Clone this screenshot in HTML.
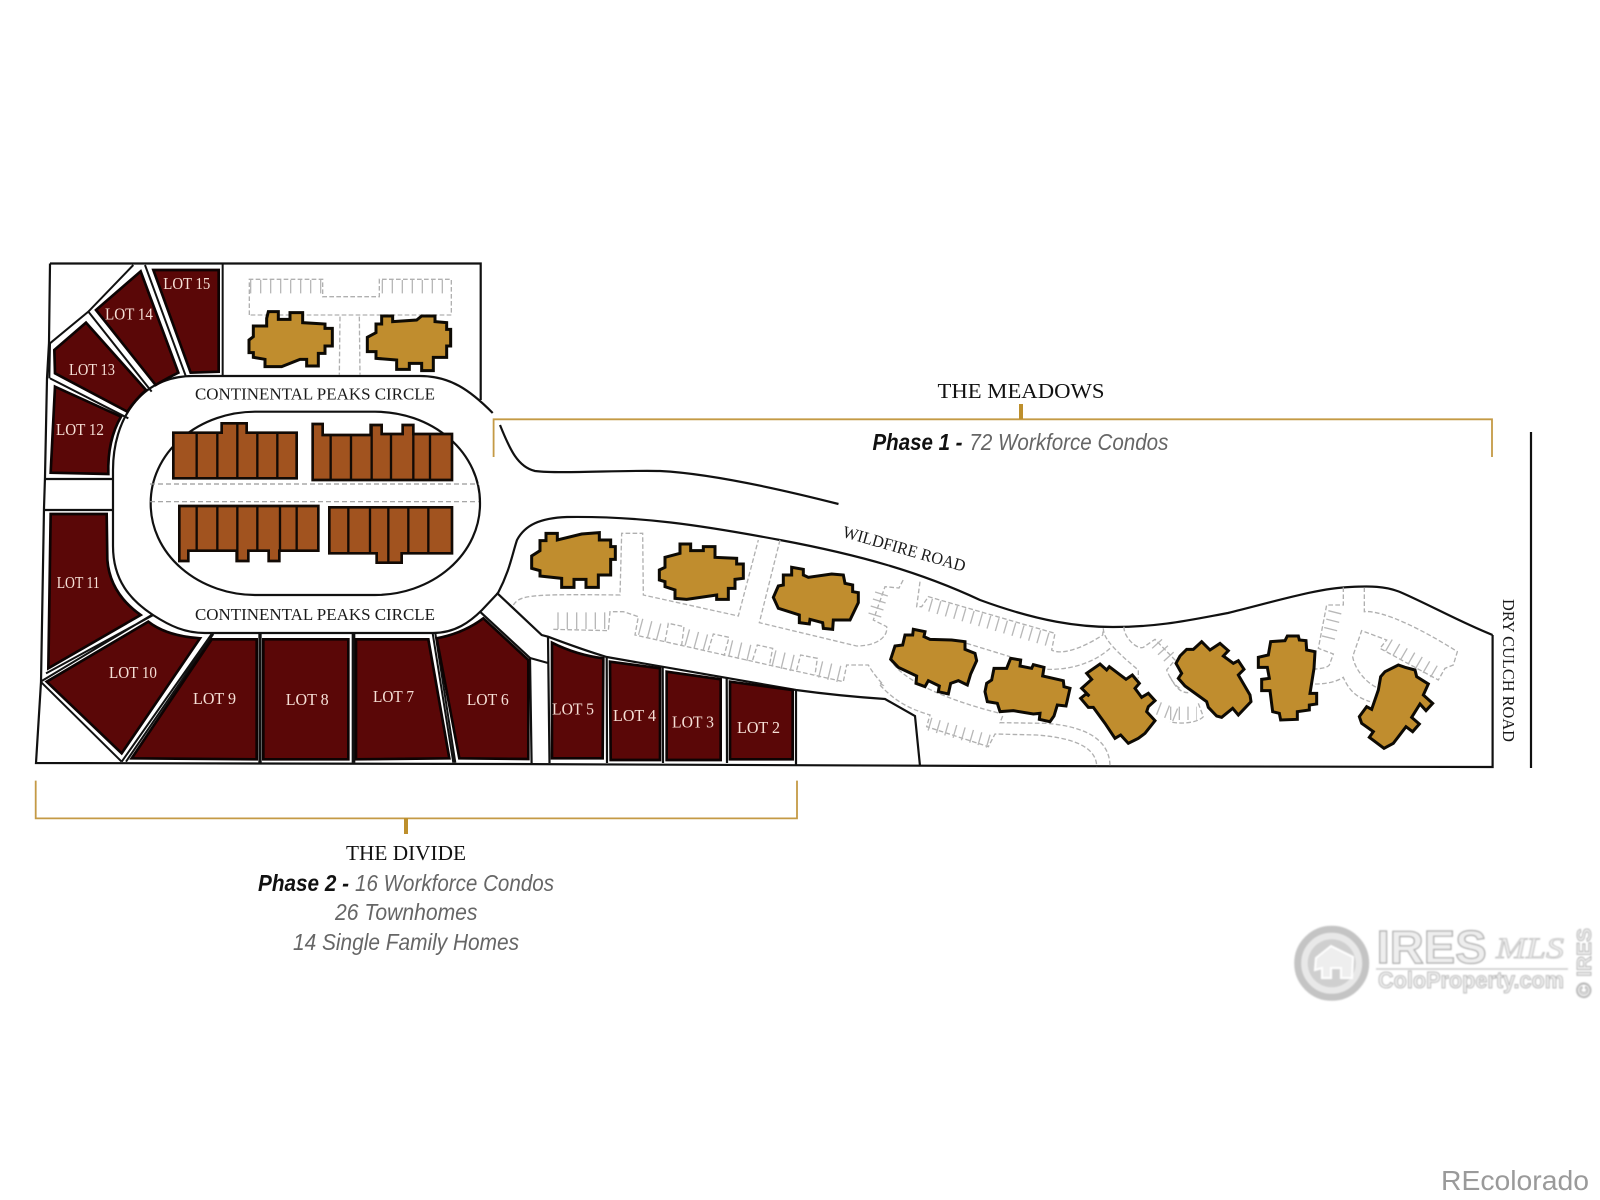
<!DOCTYPE html>
<html><head><meta charset="utf-8"><style>
html,body{margin:0;padding:0;background:#fff}
svg{display:block}
.lot{fill:#5a0707;stroke:#0d0303;stroke-width:8;stroke-linejoin:miter}
.ln{fill:none;stroke:#111;stroke-width:6}
.th{fill:#a1531f;stroke:#120a05;stroke-width:8}
.dv{fill:none;stroke:#120a05;stroke-width:7}
.b{fill:#c08d2e;stroke:#0d0a04;stroke-width:9;stroke-linejoin:miter}
.d{fill:none;stroke:#b0b0b0;stroke-width:4;stroke-dasharray:14 7}
.t{fill:none;stroke:#b8b8b8;stroke-width:40;stroke-dasharray:4 22}
.lb{font-family:"Liberation Serif",serif;font-size:17px;fill:#f6dfd6}
.rd{font-family:"Liberation Serif",serif;font-size:17px;fill:#1a1a1a}
.h{font-family:"Liberation Serif",serif;font-size:21px;fill:#111}
.p{font-family:"Liberation Sans",sans-serif;font-size:23px;font-style:italic;fill:#666}
.pb{font-family:"Liberation Sans",sans-serif;font-size:23px;font-style:italic;font-weight:bold;fill:#111}
</style></head><body>
<svg width="1600" height="1200" viewBox="0 0 1600 1200" xmlns="http://www.w3.org/2000/svg">
<defs><filter id="gl" x="-10%" y="-10%" width="120%" height="120%"><feGaussianBlur stdDeviation="0.7"/></filter></defs>
<rect width="1600" height="1200" fill="#fff"/>

<!-- main lines, real coordinates -->
<g fill="none" stroke="#111" stroke-width="2.2">
<path d="M50,263.5 L480.7,263.5 L480.7,400"/>
<path d="M50,263.5 L49,343 L47,378 L45,477 L44,508 L41,682 L36,763 L500,764 L1000,766 L1492.6,767 L1492.6,635"/>
<path d="M492.7,413 C470,390 450,376 420,376 L193,376 C140,376 113,420 113,470 L113,546 C113,580 130,600 153,615 C170,626 185,633 205,633 L433,633 C455,633 470,622 482,610 L498,593 C510,570 512,555 517,540 C525,525 540,518 567,517 C640,516 700,525 780,540 C860,555 920,572 980,600 C1040,622 1080,627 1113,627 C1160,627 1190,620 1228,613 C1280,600 1320,588 1350,587 C1370,586 1385,586 1400,592 C1430,605 1460,622 1492.6,635"/>
<path d="M480,611.7 L530,658 L531.6,763 M496.7,592.7 L541.7,635 L548,636.7 C570,645 590,652 606.7,657 L796,690 Q840,696 885,699 L915,716 L920,766"/>
<path d="M530,658 L548,663 M548,636.7 L549.5,763 M606.7,657 L607,763 M662.7,667 L663,763 M726.7,678 L727,763 M796,690 L796,765"/>
<path d="M45,510 L113,510 M45,479 L113,479"/>
<path d="M500,425 C510,450 518,467 535,471 C560,474 620,470 660,471 C700,473 760,484 838.5,504"/>
</g>
<rect x="150.7" y="411.7" width="329.3" height="183.3" rx="105" ry="91" fill="#fff" stroke="#111" stroke-width="2.2"/>
<path d="M150,484 H479 M150,501.7 H479" stroke="#999" stroke-width="1.2" stroke-dasharray="5 3" fill="none"/>
<path d="M1531,432 V768" stroke="#111" stroke-width="2.2" fill="none"/>

<!-- Left group Z1 -->
<g transform="translate(20,250) scale(.33333)">
<path class="ln" d="M90,280 L205,185 L340,45 M205,185 L395,425 M375,45 L498,380 M90,385 L325,505 M90,280 L88,385 M608,40 V375"/>
<path class="lot" d="M400,60 H596 V365 L512,368 Z"/>
<path class="lot" d="M362,64 L475,368 Q440,385 407,405 L228,180 Z"/>
<path class="lot" d="M198,218 L378,420 Q345,450 322,485 L105,370 L103,300 Z"/>
<path class="lot" d="M105,410 L303,500 Q262,570 265,672 L92,668 Z"/>
<path class="th" d="M460,548 H605 V520 H680 V548 H830 V685 H460 Z"/>
<path class="dv" d="M530,548 V685 M592,548 V685 M652,520 V685 M712,548 V685 M772,548 V685"/>
<path class="th" d="M878,522 H908 V555 H1052 V525 H1085 V552 H1148 V525 H1180 V552 H1296 V690 H878 Z"/>
<path class="dv" d="M932,555 V690 M993,555 V690 M1055,525 V690 M1113,552 V690 M1180,525 V690 M1230,552 V690"/>
<path class="th" d="M478,768 H895 V902 H778 V933 H746 V902 H685 V933 H650 V902 H505 V933 H478 Z"/>
<path class="dv" d="M530,768 V902 M592,768 V902 M652,768 V933 M712,768 V902 M780,768 V902 M830,768 V902"/>
<path class="th" d="M928,772 H1296 V910 H1145 V938 H1070 V910 H928 Z"/>
<path class="dv" d="M985,772 V910 M1050,772 V910 M1105,772 V938 M1165,772 V910 M1225,772 V910"/>
<path class="d" d="M688,195 V88 H908 V140 H1078 V88 H1294 V195 H688 M960,200 L958,375 M1018,200 L1020,375"/>
<path class="t" d="M690,110 H905 M1085,110 H1290" style="stroke-dasharray:4 26"/>
<path class="b" d="M700,228 H740 V205 L745,185 H775 V208 H810 V188 H848 V218 L915,222 V235 H937 V288 H915 V310 H895 V348 H860 V328 H840 L785,350 H735 V328 L700,322 V308 H687 V270 L700,260 Z"/>
<path class="b" d="M1068,222 H1085 V198 H1118 V215 L1190,210 L1205,198 H1245 V215 L1280,218 V238 H1292 V288 H1280 V322 H1240 V362 H1205 V340 H1168 V358 H1130 V330 L1068,325 V305 H1042 V262 L1068,248 Z"/>
</g>

<!-- Left group Z2 -->
<g transform="translate(20,500) scale(.33333)">
<path class="ln" d="M62,545 L395,345 M78,520 L400,345 M62,545 L305,785 M305,785 L575,402 M318,785 L580,402 M718,400 V788 M722,400 V788 M998,400 V788 M1003,400 V788 M1238,400 L1300,788 M1246,400 L1306,788"/>
<path class="lot" d="M92,42 H260 L262,180 Q270,280 362,345 L85,505 Z"/>
<path class="lot" d="M80,545 L385,365 Q440,408 540,415 L305,760 Z"/>
<path class="lot" d="M575,418 H710 V778 L335,775 Z"/>
<path class="lot" d="M730,418 H985 V778 H730 Z"/>
<path class="lot" d="M1008,418 H1225 L1288,775 L1008,778 Z"/>
<path class="lot" d="M1250,415 Q1330,400 1390,355 L1525,480 L1525,777 L1318,775 Z"/>
</g>

<!-- Z3 group -->
<g transform="translate(480,480) scale(.33333)">
<path class="lot" d="M216,488 Q290,525 370,535 L368,835 H216 Z"/>
<path class="lot" d="M390,545 L540,565 V840 H392 Z"/>
<path class="lot" d="M560,575 L722,598 V840 H560 Z"/>
<path class="lot" d="M750,605 L938,630 V838 H750 Z"/>
<path class="b" d="M180,182 H198 V160 H232 V180 L305,162 L358,158 V180 H392 V200 H406 V238 H392 V285 H355 V322 H318 V298 H282 V322 H245 V295 L180,288 V272 L155,265 V228 L180,212 Z"/>
<path class="b" d="M555,232 L600,220 V192 H632 V212 H670 V200 H705 V232 L770,235 V252 H790 V295 L765,298 V325 H745 V358 H710 V345 L620,358 L585,355 V330 L555,320 V305 L538,300 V270 L555,262 Z"/>
<path class="b" d="M910,285 H935 V262 L970,268 V285 L985,292 L1055,282 L1090,285 L1095,310 L1118,315 V335 L1135,338 V368 L1110,420 H1060 L1058,448 L1030,445 L1028,428 L990,418 L988,432 L958,428 V405 L895,385 L880,352 L895,318 L910,315 Z"/>
</g>

<!-- parking, lots 2-5 side : origin 500,580 -->
<g transform="translate(500,580) scale(.33333)">
<path class="d" d="M40,75 C60,45 90,42 360,45 L365,-140 H428 L430,45 L715,108 L775,-120 M840,-120 L778,128 L1070,198 C1130,198 1165,170 1160,140 L1120,120 L1155,20 L1197,24 L1212,-5"/>
<path class="d" d="M160,148 L325,152 L330,95 H370 L415,110 L405,165 L1030,305 L1040,255 H1105 C1130,300 1170,330 1140,310"/>
<path class="d" d="M495,185 L505,130 L552,140 L545,195 M625,210 L640,162 L687,172 L672,228 M758,240 L772,195 L818,205 L808,258 M890,270 L902,225 L952,235 L945,285"/>
<path class="t" d="M172,122 H325 M420,140 L495,160 M560,172 L625,190 M690,205 L760,222 M820,235 L890,252 M960,268 L1030,285" style="stroke-width:50;stroke-dasharray:4 24"/>
<path class="t" d="M1145,40 L1120,120" style="stroke-width:40;stroke-dasharray:4 18"/>
</g>

<!-- buildings D E F : origin 880,590 -->
<g transform="translate(880,590) scale(.33333)">
<path class="d" d="M120,-25 L110,50 L125,50 L145,20 L525,130 L515,180 C540,195 600,180 668,135 L670,115 M732,110 C730,140 770,180 790,172 L825,148 L885,210 L860,240 C880,290 905,300 900,290 M670,115 C670,140 690,170 775,240 L775,265 M690,175 C640,220 570,240 500,238 M260,160 L390,200 M30,205 C60,270 200,330 360,370 M0,285 C50,340 100,360 150,375 L140,410 L325,470 L345,432 L470,435 C600,445 650,480 650,530 M368,378 L360,398 L500,400 C620,410 690,450 690,530"/>
<path class="t" d="M150,45 L510,150 M148,402 L330,455 M830,160 L880,215 M835,355 L900,380" style="stroke-dasharray:4 22"/>
<path class="b" d="M75,135 H98 L100,118 L135,125 L132,140 L150,148 L215,150 L255,155 V178 L285,190 L290,212 L272,252 L262,285 L235,272 L212,280 L205,312 L175,305 L178,288 L145,272 L135,290 L108,280 L110,258 L55,232 L32,208 L45,168 L68,165 Z"/>
<path class="b" d="M342,235 H380 L392,205 L422,210 L420,228 L455,235 L460,224 L492,232 L488,258 L550,272 L552,290 L570,295 L558,348 L532,345 L522,378 L510,395 L478,388 L480,370 L460,372 L400,362 L360,365 L352,340 L322,335 L315,305 L320,280 L335,270 Z"/>
<path class="b" d="M660,222 L680,240 L688,230 L738,268 L757,255 L778,280 L765,295 L785,322 L805,310 L825,332 L805,350 L800,365 L825,392 L795,430 L775,445 L745,460 L722,435 L705,445 L675,400 L640,352 L625,352 L602,325 L618,312 L628,318 L605,295 L635,268 L620,250 Z"/>
</g>

<!-- buildings G H I : origin 1170,580 -->
<g transform="translate(1170,580) scale(.33333)">
<path class="d" d="M520,22 V75 H470 L445,205 L490,222 L478,255 C470,265 450,265 432,268 M435,312 C470,312 500,305 520,292 C540,340 570,355 600,365 M583,22 V95 C640,90 760,150 862,215 L850,255 L825,265 L805,300 L630,205 L650,180 L575,152 L548,230 C555,270 590,310 625,325 M85,370 L100,410 C80,432 20,432 0,425 M0,290 C15,320 30,338 55,338"/>
<path class="t" d="M495,95 L470,195 M655,195 L810,285" style="stroke-dasharray:4 22"/>
<path class="t" d="M0,400 H80" style="stroke-dasharray:4 22"/>
<path class="b" d="M95,185 L120,210 L150,190 L175,212 L160,228 L190,250 L205,242 L222,268 L205,285 L240,345 L243,365 L205,405 L188,385 L155,412 L140,408 L115,382 L110,365 L45,318 L25,295 L35,280 L18,250 L30,228 L50,208 L70,208 Z"/>
<path class="b" d="M302,185 L345,182 L352,168 H385 L388,180 L408,182 L410,210 L435,215 L432,265 L420,340 H440 V372 L418,375 V390 L382,395 V418 L332,420 L328,400 L308,395 L300,332 H275 V298 L298,295 L292,262 H265 V232 L295,225 Z"/>
<path class="b" d="M645,275 L685,255 L705,262 L735,270 L740,290 L775,312 L760,345 L788,370 L768,392 L750,372 L725,412 L748,432 L728,455 L708,440 L670,490 L642,505 L598,472 L610,455 L575,430 L568,410 L590,380 L605,388 L625,330 L632,290 Z"/>
</g>

<!-- brackets -->
<g fill="none" stroke="#c49a45" stroke-width="1.8">
<path d="M493.6,457 V419.3 H1492 V457"/>
<path d="M35.7,780.6 V818.4 H797 V780.6"/>
</g>
<path d="M1021,404 V419 M406,818 V834" stroke="#bd8f2c" stroke-width="4" fill="none"/>

<!-- lot labels -->
<text class="lb" x="163.3" y="289" textLength="47" lengthAdjust="spacingAndGlyphs">LOT 15</text>
<text class="lb" x="105" y="319.5" textLength="48" lengthAdjust="spacingAndGlyphs">LOT 14</text>
<text class="lb" x="69" y="375" textLength="46" lengthAdjust="spacingAndGlyphs">LOT 13</text>
<text class="lb" x="56" y="435" textLength="48" lengthAdjust="spacingAndGlyphs">LOT 12</text>
<text class="lb" x="56.7" y="588" textLength="43" lengthAdjust="spacingAndGlyphs">LOT 11</text>
<text class="lb" x="109" y="678" textLength="48" lengthAdjust="spacingAndGlyphs">LOT 10</text>
<text class="lb" x="193" y="704" textLength="43" lengthAdjust="spacingAndGlyphs">LOT 9</text>
<text class="lb" x="285.7" y="705" textLength="43" lengthAdjust="spacingAndGlyphs">LOT 8</text>
<text class="lb" x="373" y="702" textLength="41" lengthAdjust="spacingAndGlyphs">LOT 7</text>
<text class="lb" x="466.7" y="705" textLength="42" lengthAdjust="spacingAndGlyphs">LOT 6</text>
<text class="lb" x="552" y="714.3" textLength="42" lengthAdjust="spacingAndGlyphs">LOT 5</text>
<text class="lb" x="613" y="721" textLength="43" lengthAdjust="spacingAndGlyphs">LOT 4</text>
<text class="lb" x="672" y="727.7" textLength="42" lengthAdjust="spacingAndGlyphs">LOT 3</text>
<text class="lb" x="737" y="733" textLength="43" lengthAdjust="spacingAndGlyphs">LOT 2</text>

<!-- road labels -->
<text class="rd" x="195" y="399.3" textLength="240" lengthAdjust="spacingAndGlyphs">CONTINENTAL PEAKS CIRCLE</text>
<text class="rd" x="195" y="620" textLength="240" lengthAdjust="spacingAndGlyphs">CONTINENTAL PEAKS CIRCLE</text>
<text class="rd" transform="translate(841.7,536.7) rotate(16)" textLength="127" lengthAdjust="spacingAndGlyphs">WILDFIRE ROAD</text>
<text class="rd" transform="translate(1503,599) rotate(90)" textLength="143" lengthAdjust="spacingAndGlyphs">DRY CULCH ROAD</text>

<!-- headings -->
<text class="h" x="937.5" y="398" textLength="167" lengthAdjust="spacingAndGlyphs">THE MEADOWS</text>
<text class="h" x="346" y="860" textLength="120" lengthAdjust="spacingAndGlyphs">THE DIVIDE</text>
<text class="pb" x="872.5" y="450" textLength="90" lengthAdjust="spacingAndGlyphs">Phase 1 -</text>
<text class="p" x="969.4" y="450" textLength="199" lengthAdjust="spacingAndGlyphs">72 Workforce Condos</text>
<text class="pb" x="258" y="891" textLength="91" lengthAdjust="spacingAndGlyphs">Phase 2 -</text>
<text class="p" x="355" y="891" textLength="199" lengthAdjust="spacingAndGlyphs">16 Workforce Condos</text>
<text class="p" x="335" y="920" textLength="142.5" lengthAdjust="spacingAndGlyphs">26 Townhomes</text>
<text class="p" x="293" y="950" textLength="226" lengthAdjust="spacingAndGlyphs">14 Single Family Homes</text>

<!-- IRES logo -->
<g filter="url(#gl)">
<circle cx="1331.7" cy="963.3" r="34" fill="#e8e8e8" stroke="#c4c4c4" stroke-width="7"/>
<circle cx="1331.7" cy="963.3" r="24" fill="#cfcfcf"/>
<path d="M1315,970 L1316,958 L1331,946 L1353,957 L1352,978 L1341,978 V968 L1331,968 V978 H1322 V968 Z" fill="#eee" stroke="#fff" stroke-width="2"/>
<text x="1376.7" y="963" font-family="Liberation Sans,sans-serif" font-size="46" font-weight="bold" fill="#eee" stroke="#aaa" stroke-width="1.2" textLength="110" lengthAdjust="spacingAndGlyphs">IRES</text>
<text x="1496" y="958" font-family="Liberation Serif,serif" font-style="italic" font-size="30" fill="#eee" stroke="#bbb" stroke-width=".8" textLength="68" lengthAdjust="spacingAndGlyphs">MLS</text>
<path d="M1376,969 H1568" stroke="#c8c8c8" stroke-width="1.5"/>
<text x="1378" y="988" font-family="Liberation Sans,sans-serif" font-size="23" font-weight="bold" fill="#eee" stroke="#aaa" stroke-width=".8" textLength="186" lengthAdjust="spacingAndGlyphs">ColoProperty.com</text>
<text transform="translate(1591,998) rotate(-90)" font-family="Liberation Sans,sans-serif" font-size="20" font-weight="bold" fill="#eee" stroke="#aaa" stroke-width=".8" textLength="70" lengthAdjust="spacingAndGlyphs">© IRES</text>
</g>

<text x="1441" y="1190" font-family="Liberation Sans,sans-serif" font-size="28" fill="#9a9a9a" textLength="148" lengthAdjust="spacingAndGlyphs">REcolorado</text>
</svg>
</body></html>
